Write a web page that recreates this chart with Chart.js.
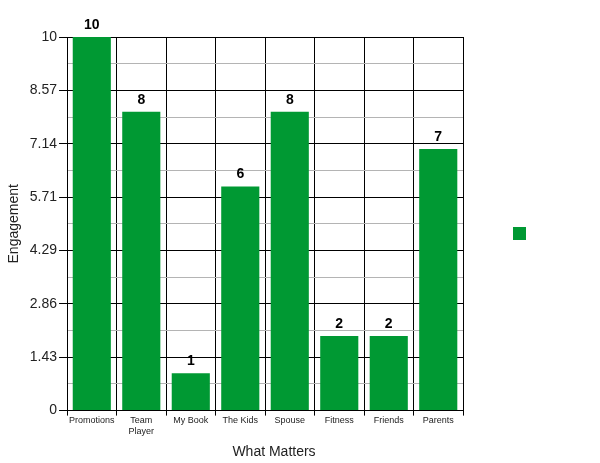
<!DOCTYPE html>
<html>
<head>
<meta charset="utf-8">
<script src="https://cdn.jsdelivr.net/npm/chart.js@4"></script>
<style>
  body { margin: 0; background: #fff; }
  #wrap { width: 600px; height: 463px; }
</style>
</head>
<body>
<div id="wrap"><canvas id="chart"></canvas></div>
<script>
const categories = ['Promotions', ['Team', 'Player'], 'My Book', 'The Kids', 'Spouse', 'Fitness', 'Friends', 'Parents'];
const engagement = [10, 8, 1, 6, 8, 2, 2, 7];
const yTickValues = [0, 1.43, 2.86, 4.29, 5.71, 7.14, 8.57, 10];
const yTickLabels = ['0', '1.43', '2.86', '4.29', '5.71', '7.14', '8.57', '10'];
const yMinorValues = [0.715, 2.145, 3.575, 5.0, 6.425, 7.855, 9.285];

// value labels above each bar
const barValues = {
    id: 'barValues',
    afterDatasetsDraw(chart) {
        const ctx = chart.ctx;
        ctx.save();
        ctx.font = 'bold 14px "Liberation Sans", Arial, sans-serif';
        ctx.fillStyle = '#000';
        ctx.textAlign = 'center';
        ctx.textBaseline = 'bottom';
        chart.getDatasetMeta(0).data.forEach(function (bar, i) {
            ctx.fillText(engagement[i], bar.x, bar.y - 5);
        });
        ctx.restore();
    }
};

let chart = new Chart(document.getElementById('chart'), {
    type: 'bar',
    data: {
        labels: categories,
        datasets: [{
            label: '',
            data: engagement,
            backgroundColor: '#009933',
            categoryPercentage: 1,
            barPercentage: 0.77
        }]
    },
    options: {
        responsive: true,
        maintainAspectRatio: false,
        animation: false,
        layout: { padding: { top: 37, right: 58, left: 6 } },
        scales: {
            x: {
                grid: {
                    color: '#000',
                    tickLength: 5,
                    offset: true
                },
                border: { color: '#000' },
                ticks: {
                    color: '#222',
                    font: { family: '"Liberation Sans", Arial, sans-serif', size: 9 },
                    maxRotation: 0,
                    padding: 0
                }
            },
            y: {
                min: 0,
                max: 10,
                afterBuildTicks: function (axis) {
                    axis.ticks = yTickValues.map(v => ({ value: v, major: true }))
                        .concat(yMinorValues.map(v => ({ value: v, major: false })));
                },
                grid: {
                    color: ctx => ctx.tick && ctx.tick.major ? '#000' : '#b4b4b4',
                    tickColor: ctx => ctx.tick && ctx.tick.major ? '#000' : 'rgba(0,0,0,0)',
                    tickLength: 8
                },
                border: { color: '#000' },
                ticks: {
                    color: '#222',
                    font: { family: '"Liberation Sans", Arial, sans-serif', size: 14 },
                    padding: 2,
                    callback: function (value, index, ticks) {
                        const k = yTickValues.indexOf(value);
                        return k >= 0 ? yTickLabels[k] : '';
                    }
                },
                title: {
                    display: true,
                    text: 'Engagement',
                    color: '#222',
                    font: { family: '"Liberation Sans", Arial, sans-serif', size: 14 },
                    padding: { top: 0, bottom: 5 }
                }
            }
        },
        plugins: {
            legend: {
                position: 'right',
                fullSize: false,
                title: {
                    display: true,
                    text: ' ',
                    font: { size: 12 },
                    padding: { top: 5, bottom: 0 }
                },
                labels: {
                    boxWidth: 13,
                    boxHeight: 13,
                    padding: 50,
                    font: { size: 12 }
                }
            },
            title: {
                display: true,
                position: 'bottom',
                text: 'What Matters',
                color: '#222',
                font: { family: '"Liberation Sans", Arial, sans-serif', size: 14, weight: 'normal' },
                padding: { top: 7, bottom: 2 }
            },
            tooltip: { enabled: false }
        }
    },
    plugins: [barValues]
});
</script>
</body>
</html>
